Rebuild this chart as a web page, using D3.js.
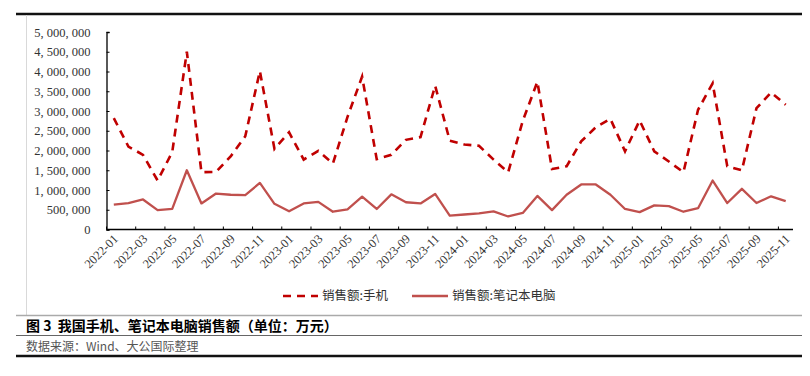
<!DOCTYPE html>
<html>
<head>
<meta charset="utf-8">
<script src="https://cdn.jsdelivr.net/npm/d3@7"></script>
<style>
  body { margin: 0; background: #fff; }
  svg { display: block; }
</style>
</head>
<body>
<svg id="chart" width="810" height="376"></svg>
<script>
// months 2022-01 .. 2025-11
const months = [];
for (let yr = 2022; yr <= 2025; yr++) {
  for (let m = 1; m <= 12; m++) {
    if (yr === 2025 && m > 11) break;
    months.push(yr + "-" + String(m).padStart(2, "0"));
  }
}

// 销售额:手机 (万元)
const phone = [
  2820000, 2100000, 1890000, 1240000, 1960000, 4500000, 1450000, 1460000, 1850000, 2360000,
  4010000, 2040000, 2460000, 1770000, 1990000, 1670000, 2850000, 3870000, 1780000, 1890000,
  2270000, 2340000, 3640000, 2250000, 2150000, 2120000, 1770000, 1450000, 2750000, 3740000,
  1530000, 1600000, 2230000, 2590000, 2800000, 1980000, 2760000, 1980000, 1720000, 1450000,
  3030000, 3700000, 1600000, 1500000, 3070000, 3470000, 3160000
];

// 销售额:笔记本电脑 (万元)
const laptop = [
  630000, 670000, 760000, 490000, 520000, 1500000, 660000, 910000, 880000, 870000,
  1180000, 650000, 460000, 660000, 700000, 450000, 510000, 830000, 520000, 890000,
  690000, 660000, 900000, 350000, 380000, 410000, 460000, 330000, 420000, 850000,
  490000, 880000, 1140000, 1140000, 880000, 520000, 440000, 610000, 590000, 450000,
  540000, 1240000, 670000, 1030000, 670000, 840000, 720000
];

const yTicks = d3.range(0, 5000001, 500000);
const seriesNames = ["销售额:手机", "销售额:笔记本电脑"];

const svg = d3.select("#chart");

// frame
svg.append("line").attr("x1", 16).attr("x2", 802).attr("y1", 14).attr("y2", 14)
  .attr("stroke", "#111").attr("stroke-width", 2.5);
svg.append("line").attr("x1", 26.5).attr("x2", 26.5).attr("y1", 15).attr("y2", 315)
  .attr("stroke", "#d9d9d9").attr("stroke-width", 1);
svg.append("line").attr("x1", 16).attr("x2", 802).attr("y1", 315.5).attr("y2", 315.5)
  .attr("stroke", "#aaa").attr("stroke-width", 1.5);
svg.append("line").attr("x1", 16).attr("x2", 802).attr("y1", 335.5).attr("y2", 335.5)
  .attr("stroke", "#666").attr("stroke-width", 1.2);
svg.append("line").attr("x1", 16).attr("x2", 802).attr("y1", 356).attr("y2", 356)
  .attr("stroke", "#111").attr("stroke-width", 2.5);

const plotL = 106.5, plotR = 793, plotT = 32, plotB = 229.5;

const x = d3.scaleBand().domain(months).range([plotL, plotR]);
const y = d3.scaleLinear().domain([0, 5000000]).range([plotB, plotT]);

// y axis
const yAxis = svg.append("g").attr("transform", `translate(${plotL},0)`)
  .call(d3.axisLeft(y).tickValues(yTicks).tickSize(-3).tickPadding(16)
    .tickFormat(d => d3.format(",")(d).replace(/,/g, ", ")));
yAxis.select(".domain").attr("stroke", "#000").attr("stroke-width", 1.3);
yAxis.selectAll(".tick line").attr("stroke", "#000");
yAxis.selectAll("text")
  .attr("font-family", "'Liberation Serif', 'DejaVu Serif', serif")
  .attr("font-size", 12.5).attr("fill", "#333");

// x axis: ticks between categories every 2 months, labels at category centres
const xg = svg.append("g");
xg.append("line").attr("x1", plotL).attr("x2", plotR).attr("y1", plotB).attr("y2", plotB)
  .attr("stroke", "#000").attr("stroke-width", 1.3);
const tickMonths = months.filter((d, i) => i % 2 === 0);
xg.selectAll(".xt").data(tickMonths).enter().append("line")
  .attr("x1", d => x(d)).attr("x2", d => x(d))
  .attr("y1", plotB).attr("y2", plotB - 3)
  .attr("stroke", "#000");
xg.selectAll(".xl").data(tickMonths).enter().append("text")
  .attr("transform", d => `translate(${x(d) + x.bandwidth() / 2 + 2},${plotB + 7}) rotate(-45)`)
  .attr("text-anchor", "end")
  .attr("dy", "0.35em")
  .attr("font-family", "'Liberation Serif', 'DejaVu Serif', serif")
  .attr("font-size", 12.5).attr("fill", "#333")
  .text(d => d);

const cx = d => x(d) + x.bandwidth() / 2;

const line = d3.line().x((d, i) => cx(months[i])).y(d => y(d));

svg.append("path").datum(laptop)
  .attr("d", line)
  .attr("fill", "none").attr("stroke", "#C0504D").attr("stroke-width", 2.3)
  .attr("stroke-linejoin", "round");

svg.append("path").datum(phone)
  .attr("d", line)
  .attr("fill", "none").attr("stroke", "#C00000").attr("stroke-width", 2.6)
  .attr("stroke-dasharray", "8,6");

// legend
const legend = svg.append("g");
legend.append("line").attr("x1", 283).attr("x2", 318).attr("y1", 296).attr("y2", 296)
  .attr("stroke", "#C00000").attr("stroke-width", 2.6).attr("stroke-dasharray", "8,6");
legend.append("text").attr("x", 322).attr("y", 296).attr("dy", "0.35em")
  .attr("font-family", "'Noto Sans CJK SC', sans-serif").attr("font-size", 12.5).attr("fill", "#333")
  .text(seriesNames[0]);
legend.append("line").attr("x1", 412).attr("x2", 448).attr("y1", 296).attr("y2", 296)
  .attr("stroke", "#C0504D").attr("stroke-width", 2.3);
legend.append("text").attr("x", 452).attr("y", 296).attr("dy", "0.35em")
  .attr("font-family", "'Noto Sans CJK SC', sans-serif").attr("font-size", 12.5).attr("fill", "#333")
  .text(seriesNames[1]);

// caption
svg.append("text").attr("x", 26).attr("y", 331)
  .attr("font-family", "'Noto Sans CJK SC', sans-serif").attr("font-size", 14)
  .attr("font-weight", "bold").attr("fill", "#000")
  .style("white-space", "pre")
  .text("图 3  我国手机、笔记本电脑销售额（单位：万元）");
svg.append("text").attr("x", 26).attr("y", 351)
  .attr("font-family", "'Noto Sans CJK SC', sans-serif").attr("font-size", 12)
  .attr("fill", "#555")
  .text("数据来源：Wind、大公国际整理");
</script>
</body>
</html>
